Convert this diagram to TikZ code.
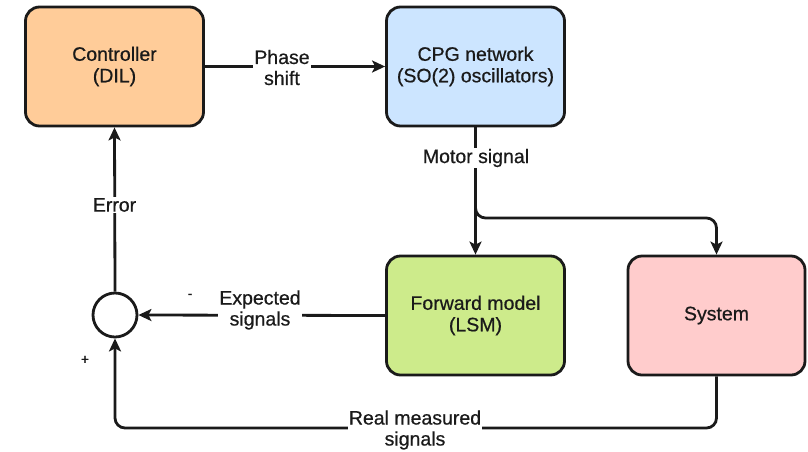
\documentclass[tikz,border=0pt]{standalone}
\usepackage{fontspec}
\setmainfont{Liberation Sans}
% regular face, slightly thickened, used for all labels
\newfontfamily\labfont{Liberation Sans}[BoldFont=Liberation Sans, BoldFeatures={FakeBold=0.6}]
\usetikzlibrary{arrows.meta}
\definecolor{ctrlfill}{HTML}{FFCC99}
\definecolor{cpgfill}{HTML}{CCE5FF}
\definecolor{fwdfill}{HTML}{CDEB8B}
\definecolor{sysfill}{HTML}{FFCCCC}
\definecolor{ink}{HTML}{1A1A1A}
\tikzset{
  block/.style={draw=ink, line width=2.8pt, rounded corners=14pt,
    minimum width=178pt, minimum height=119pt, align=center,
    font=\labfont\bfseries\fontsize{19.5}{21.5}\selectfont, text=ink},
  lbl/.style={fill=white, inner sep=1pt, align=center,
    font=\labfont\bfseries\fontsize{19.5}{21}\selectfont, text=ink},
  sign/.style={inner sep=0pt, font=\labfont\bfseries\fontsize{14}{14}\selectfont, text=ink},
  arr/.style={draw=ink, line width=2.8pt,
    -{Stealth[length=13pt,width=12pt,inset=3pt]}},
}
\begin{document}
\begin{tikzpicture}[x=1pt, y=-1pt]
  \useasboundingbox (0,0) rectangle (808,451);

  % blocks
  \node[block, fill=ctrlfill] (ctrl) at (114.5,66.5) {Controller\\(DIL)};
  \node[block, fill=cpgfill]  (cpg)  at (475.5,66.5) {CPG network\\(SO(2) oscillators)};
  \node[block, fill=fwdfill]  (fwd)  at (475.5,315.5) {Forward model\\(LSM)};
  \node[block, fill=sysfill, minimum width=177pt] (sys) at (716.5,315.5) {System};

  % summing junction
  \node[draw=ink, line width=2.8pt, circle, fill=white, minimum size=44pt, inner sep=0pt] (sum) at (115,315) {};

  % helper corners
  \coordinate (br) at (716.5,218);
  \coordinate (rm) at (115,428);

  % Phase shift
  \draw[arr] (ctrl.east) -- (cpg.west);
  \node[lbl] (phase) at (282,67.5) {Phase\\shift};

  % Motor signal to forward model and system
  \draw[arr] (cpg.south) -- (fwd.north);
  \draw[arr, rounded corners=10pt] (cpg.south) |- (br) -- (sys.north);
  \node[lbl] (motor) at (476,158) {Motor signal};

  % Expected signals
  \draw[arr] (fwd.west) -- (sum.east);
  \node[lbl] (expected) at (260,310) {Expected\\signals};
  \node[sign] (minus) at (190,296) {-};

  % Real measured signals
  \draw[arr, rounded corners=10pt] (sys.south) |- (rm) -- (sum.south);
  \node[lbl] (real) at (415,430) {Real measured\\signals};
  \node[sign] (plus) at (85,360) {+};

  % Error
  \draw[arr] (sum.north) -- (ctrl.south);
  \node[lbl] (error) at (114.5,205) {Error};
\end{tikzpicture}
\end{document}
